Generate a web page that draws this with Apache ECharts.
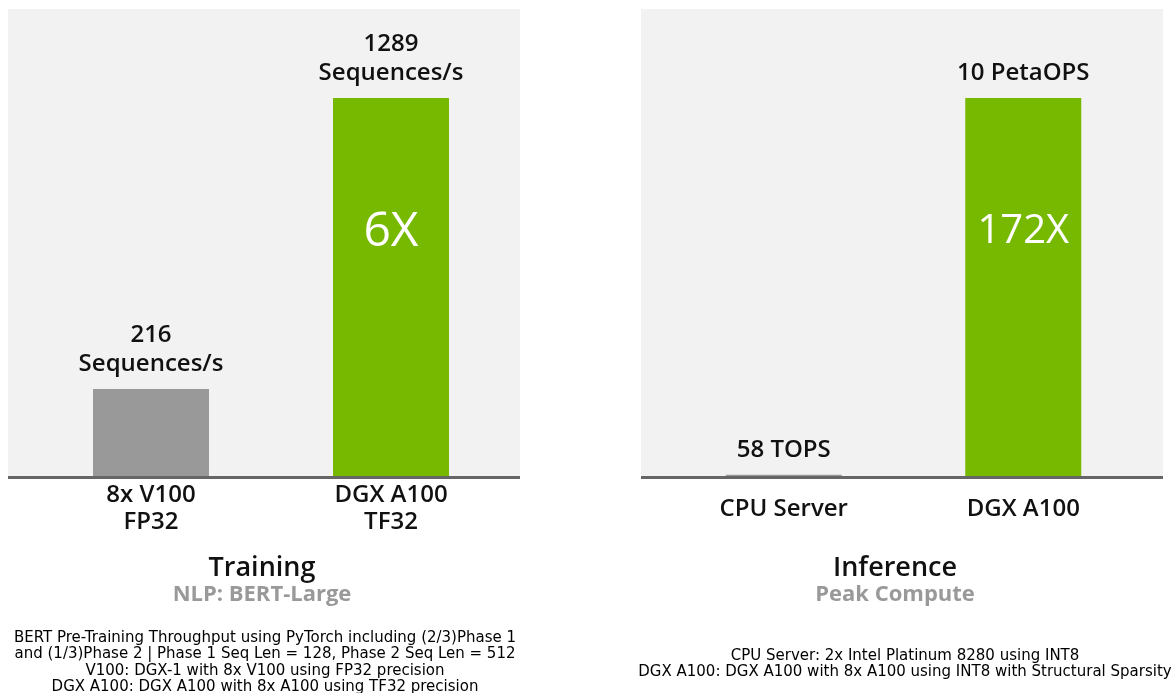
<!DOCTYPE html>
<html>
<head>
<meta charset="utf-8">
<script src="https://cdn.jsdelivr.net/npm/echarts@6/dist/echarts.min.js"></script>
<style>
  html, body { margin: 0; padding: 0; background: #fff; }
  #chart { width: 1175px; height: 693px; }
</style>
</head>
<body>
<div id="chart"></div>
<script>
// training panel
const trainCategories = ['8x V100\nFP32', 'DGX A100\nTF32']
const trainValues = [216, 1289]           // sequences / s
const trainLabels = ['216\nSequences/s', '1289\nSequences/s']

// inference panel
const inferCategories = ['CPU Server', 'DGX A100']
const inferValues = [58, 10000]           // TOPS
const inferLabels = ['58 TOPS', '10 PetaOPS']

const barColors = ['#999999', '#76b900']

const trainNotes = [
  'BERT Pre-Training Throughput using PyTorch including (2/3)Phase 1',
  'and (1/3)Phase 2 | Phase 1 Seq Len = 128, Phase 2 Seq Len = 512',
  'V100: DGX-1 with 8x V100 using FP32 precision',
  'DGX A100: DGX A100 with 8x A100 using TF32 precision'
]
const inferNotes = [
  'CPU Server: 2x Intel Platinum 8280 using INT8',
  'DGX A100: DGX A100 with 8x A100 using INT8 with Structural Sparsity'
]

const speedup = vals => Math.round(vals[1] / vals[0]) + 'X'

const FONT = 'Open Sans'

const chart = echarts.init(document.getElementById('chart'))

const catAxis = (gridIndex, data) => ({
  type: 'category',
  gridIndex: gridIndex,
  data: data,
  axisLine: { show: false },
  axisTick: { show: false },
  axisLabel: {
    margin: 32,
    verticalAlign: 'middle',
    fontFamily: FONT,
    fontSize: 24,
    fontWeight: 600,
    lineHeight: 27,
    color: '#111'
  }
})

const mainBars = (idx, values, labels) => ({
  type: 'bar',
  xAxisIndex: idx,
  yAxisIndex: idx,
  barWidth: 116,
  data: values.map((v, i) => ({ value: v, itemStyle: { color: barColors[i] } })),
  label: {
    show: true,
    position: 'top',
    distance: 10,
    formatter: p => labels[p.dataIndex],
    fontFamily: FONT,
    fontSize: 24,
    fontWeight: 600,
    lineHeight: 29,
    color: '#111'
  }
})

// same bars again, transparent, only to carry the speedup label
const speedBars = (idx, values, size, dist) => ({
  type: 'bar',
  xAxisIndex: idx,
  yAxisIndex: idx,
  barWidth: 116,
  barGap: '-100%',
  silent: true,
  data: values,
  itemStyle: { color: 'rgba(0,0,0,0)' },
  label: {
    show: true,
    position: 'insideTop',
    distance: dist,
    formatter: p => p.dataIndex === 1 ? speedup(values) : '',
    fontFamily: FONT,
    fontSize: size,
    color: '#fff'
  }
})

const titleStyle = { fontFamily: FONT, fontSize: 27, fontWeight: 600, lineHeight: 30, color: '#111' }
const subStyle = { fontFamily: FONT, fontSize: 22, fontWeight: 700, lineHeight: 24, color: '#999' }
const noteStyle = { fontFamily: 'DejaVu Sans', fontSize: 15, fontWeight: 'normal', lineHeight: 16.4, color: '#000' }

const option = {
  animation: false,
  graphic: [
    { type: 'rect', z: -10, shape: { x: 8, y: 9, width: 512, height: 468 }, style: { fill: '#f2f2f2' } },
    { type: 'rect', z: -10, shape: { x: 641, y: 9, width: 522, height: 468 }, style: { fill: '#f2f2f2' } },
    { type: 'line', z: 100, shape: { x1: 8, y1: 477.5, x2: 520, y2: 477.5 }, style: { stroke: '#666', lineWidth: 3 } },
    { type: 'line', z: 100, shape: { x1: 641, y1: 477.5, x2: 1163, y2: 477.5 }, style: { stroke: '#666', lineWidth: 3 } }
  ],
  title: [
    {
      text: 'Training', subtext: 'NLP: BERT-Large',
      left: 262, top: 553, textAlign: 'center', padding: 0, itemGap: 0,
      textStyle: titleStyle, subtextStyle: subStyle
    },
    {
      text: 'Inference', subtext: 'Peak Compute',
      left: 895, top: 553, textAlign: 'center', padding: 0, itemGap: 0,
      textStyle: titleStyle, subtextStyle: subStyle
    },
    {
      text: trainNotes.join('\n'),
      left: 265, top: 630, textAlign: 'center', padding: 0,
      textStyle: noteStyle
    },
    {
      text: inferNotes.join('\n'),
      left: 905, top: 648, textAlign: 'center', padding: 0,
      textStyle: noteStyle
    }
  ],
  grid: [
    { left: 31, right: 664, top: 9, bottom: 216 },
    { left: 664, right: 32, top: 9, bottom: 216 }
  ],
  xAxis: [catAxis(0, trainCategories), catAxis(1, inferCategories)],
  yAxis: [
    { type: 'value', gridIndex: 0, show: false, min: -108, max: 1617, startValue: -108 },
    { type: 'value', gridIndex: 1, show: false, min: 0, max: 12350 }
  ],
  series: [
    mainBars(0, trainValues, trainLabels),
    speedBars(0, trainValues, 48, 110),
    mainBars(1, inferValues, inferLabels),
    speedBars(1, inferValues, 40, 114)
  ]
}

chart.setOption(option)
</script>
</body>
</html>
